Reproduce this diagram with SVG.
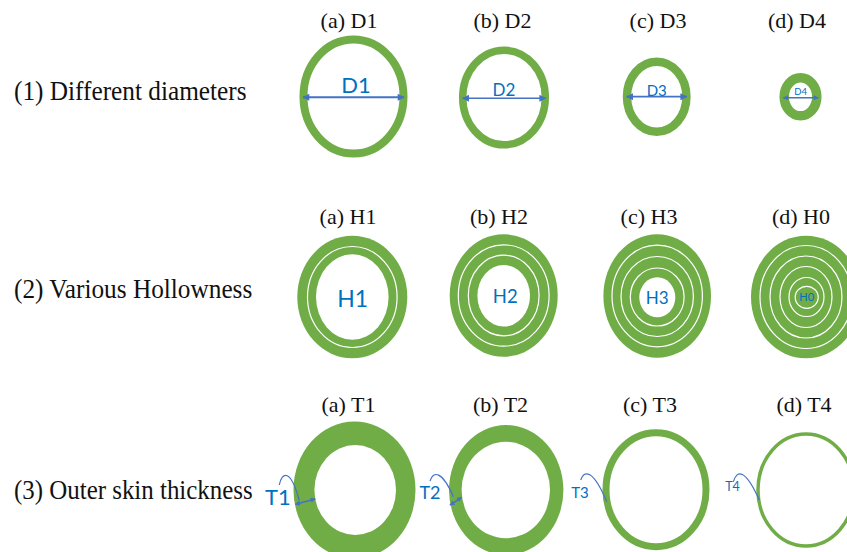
<svg xmlns="http://www.w3.org/2000/svg" width="847" height="552" viewBox="0 0 847 552">
  <style>
    .row { font-family: "Liberation Serif", "Times New Roman", serif; font-size: 26.5px; fill: #111; }
    .title { font-family: "Liberation Serif", "Times New Roman", serif; font-size: 22px; fill: #111; text-anchor: middle; }
    .lbl { font-family: Lato, "Open Sans", sans-serif; fill: #0070C0; text-anchor: middle; }
    .ring { fill: none; stroke: #70AD47; }
    .solid { fill: #70AD47; }
    .hole { fill: #ffffff; }
    .sep { fill: none; stroke: #ffffff; stroke-width: 1.2; }
    .dim { fill: none; stroke: #4472C4; }
    .callout { fill: none; stroke: #4472C4; stroke-width: 1.2; }
  </style>
  <defs>
    <marker id="tip" viewBox="0 0 10 10" refX="9" refY="5" markerWidth="8" markerHeight="7" markerUnits="userSpaceOnUse" orient="auto-start-reverse">
      <path d="M0,0 L10,5 L0,10 z" fill="#4472C4"/>
    </marker>
    <marker id="tipSmall" viewBox="0 0 10 10" refX="9" refY="5" markerWidth="6" markerHeight="5" markerUnits="userSpaceOnUse" orient="auto-start-reverse">
      <path d="M0,0 L10,5 L0,10 z" fill="#4472C4"/>
    </marker>
  </defs>

  <!-- row captions -->
  <g id="row-labels">
    <text class="row" x="14" y="99.5" textLength="232.5" lengthAdjust="spacingAndGlyphs">(1) Different diameters</text>
    <text class="row" x="14" y="297.5" textLength="238.3" lengthAdjust="spacingAndGlyphs">(2) Various Hollowness</text>
    <text class="row" x="14" y="498.5" textLength="238.7" lengthAdjust="spacingAndGlyphs">(3) Outer skin thickness</text>
  </g>

  <!-- column titles -->
  <g id="titles">
    <text class="title" x="349" y="28">(a) D1</text>
    <text class="title" x="502.5" y="28">(b) D2</text>
    <text class="title" x="658" y="28">(c) D3</text>
    <text class="title" x="797" y="28">(d) D4</text>
    <text class="title" x="348" y="223.5">(a) H1</text>
    <text class="title" x="499" y="223.5">(b) H2</text>
    <text class="title" x="649" y="223.5">(c) H3</text>
    <text class="title" x="801" y="223.5">(d) H0</text>
    <text class="title" x="348.5" y="411.5">(a) T1</text>
    <text class="title" x="500.5" y="411.5">(b) T2</text>
    <text class="title" x="650" y="411.5">(c) T3</text>
    <text class="title" x="804" y="411.5">(d) T4</text>
  </g>

  <!-- row 1: diameters -->
  <g id="D1">
    <ellipse class="ring" cx="353.5" cy="96.5" rx="50" ry="57" stroke-width="8"/>
    <text class="lbl" x="356" y="92.5" font-size="22">D1</text>
  </g>
  <g id="D2">
    <ellipse class="ring" cx="504" cy="97.5" rx="41.3" ry="47.3" stroke-width="7.5"/>
    <text class="lbl" x="504" y="96" font-size="17">D2</text>
  </g>
  <g id="D3">
    <ellipse class="ring" cx="656.7" cy="96.7" rx="29.7" ry="35" stroke-width="8.5"/>
    <text class="lbl" x="656.7" y="96" font-size="15">D3</text>
  </g>
  <g id="D4">
    <ellipse class="ring" cx="800.5" cy="96.8" rx="16.3" ry="19" stroke-width="9.5"/>
    <text class="lbl" x="800.7" y="94.5" font-size="9.5">D4</text>
  </g>

  <!-- row 2: hollowness -->
  <g id="H1">
    <ellipse class="solid" cx="352.3" cy="297" rx="55" ry="61.3"/>
    <ellipse class="sep" cx="352.3" cy="297" rx="44.8" ry="50.5"/>
    <ellipse class="hole" cx="352.3" cy="297" rx="36.3" ry="42.7"/>
    <text class="lbl" x="352.7" y="306.7" font-size="23">H1</text>
  </g>
  <g id="H2">
    <ellipse class="solid" cx="503.7" cy="295.5" rx="54" ry="61.3"/>
    <ellipse class="sep" cx="503.7" cy="295.5" rx="45.4" ry="50.7"/>
    <ellipse class="sep" cx="503.7" cy="295.5" rx="35.4" ry="40.3"/>
    <ellipse class="hole" cx="503.7" cy="295.8" rx="26.3" ry="30.8"/>
    <text class="lbl" x="505.3" y="302.7" font-size="18.5">H2</text>
  </g>
  <g id="H3">
    <ellipse class="solid" cx="657.2" cy="296" rx="53.8" ry="61.8"/>
    <ellipse class="sep" cx="657.2" cy="296" rx="45.2" ry="50.8"/>
    <ellipse class="sep" cx="657.2" cy="296.5" rx="36.2" ry="40"/>
    <ellipse class="sep" cx="657.2" cy="297" rx="26.9" ry="29"/>
    <ellipse class="hole" cx="657.3" cy="297.3" rx="18" ry="20"/>
    <text class="lbl" x="657.2" y="304" font-size="17">H3</text>
  </g>
  <g id="H0">
    <ellipse class="solid" cx="806" cy="297" rx="55" ry="61.3"/>
    <ellipse class="sep" cx="806" cy="297" rx="46" ry="51.5"/>
    <ellipse class="sep" cx="806" cy="297" rx="36" ry="41"/>
    <ellipse class="sep" cx="806" cy="297" rx="26" ry="30.5"/>
    <ellipse class="sep" cx="806.5" cy="297" rx="17.5" ry="19.5"/>
    <ellipse class="sep" cx="806.7" cy="297.3" rx="11.5" ry="11" stroke-width="0.8"/>
    <text class="lbl" x="806.7" y="301" font-size="11">H0</text>
  </g>

  <!-- row 3: skin thickness -->
  <g id="T1">
    <ellipse class="solid" cx="354.5" cy="490" rx="61" ry="68.5"/>
    <ellipse class="hole" cx="355.2" cy="490" rx="40.8" ry="45"/>
    <text class="lbl" x="278" y="505" font-size="22">T1</text>
  </g>
  <g id="T2">
    <ellipse class="solid" cx="506.2" cy="490" rx="57.2" ry="65"/>
    <ellipse class="hole" cx="505.8" cy="490" rx="44.2" ry="48.3"/>
    <text class="lbl" x="430" y="499" font-size="18">T2</text>
  </g>
  <g id="T3">
    <ellipse class="ring" cx="656" cy="489.7" rx="50" ry="57" stroke-width="7"/>
    <text class="lbl" x="580" y="498.3" font-size="15">T3</text>
  </g>
  <g id="T4">
    <ellipse class="ring" cx="806" cy="490" rx="48" ry="56" stroke-width="3.5"/>
    <text class="lbl" x="732.5" y="490.7" font-size="12.5">T4</text>
  </g>

  <!-- dimension arrows and callout leaders -->
  <g id="connectors">
    <line class="dim" x1="303" y1="97.3" x2="404" y2="97.3" stroke-width="2" marker-start="url(#tip)" marker-end="url(#tip)"/>
    <line class="dim" x1="462.7" y1="98.3" x2="545.7" y2="98.3" stroke-width="1.6" marker-start="url(#tip)" marker-end="url(#tip)"/>
    <line class="dim" x1="626.7" y1="96.7" x2="686.7" y2="96.7" stroke-width="1.8" marker-start="url(#tip)" marker-end="url(#tip)"/>
    <line class="dim" x1="783.3" y1="97.7" x2="818.3" y2="97.7" stroke-width="1.6" marker-start="url(#tipSmall)" marker-end="url(#tipSmall)"/>

    <path class="callout" d="M279.3,485 C282,471 291,469 299.3,500.7"/>
    <line class="dim" x1="295.3" y1="504.3" x2="315.3" y2="499" stroke-width="1.6" marker-start="url(#tipSmall)" marker-end="url(#tipSmall)"/>

    <path class="callout" d="M430,481 C433,471 442,470 453.3,496.7"/>
    <line class="dim" x1="450" y1="505" x2="461.7" y2="497.3" stroke-width="1.6" marker-start="url(#tipSmall)" marker-end="url(#tipSmall)"/>

    <path class="callout" d="M580.7,480 C584,470 593,469 606.7,501.7"/>
    <path class="callout" d="M733.3,481.7 C737,470 745,468 759.3,500"/>
  </g>
</svg>
